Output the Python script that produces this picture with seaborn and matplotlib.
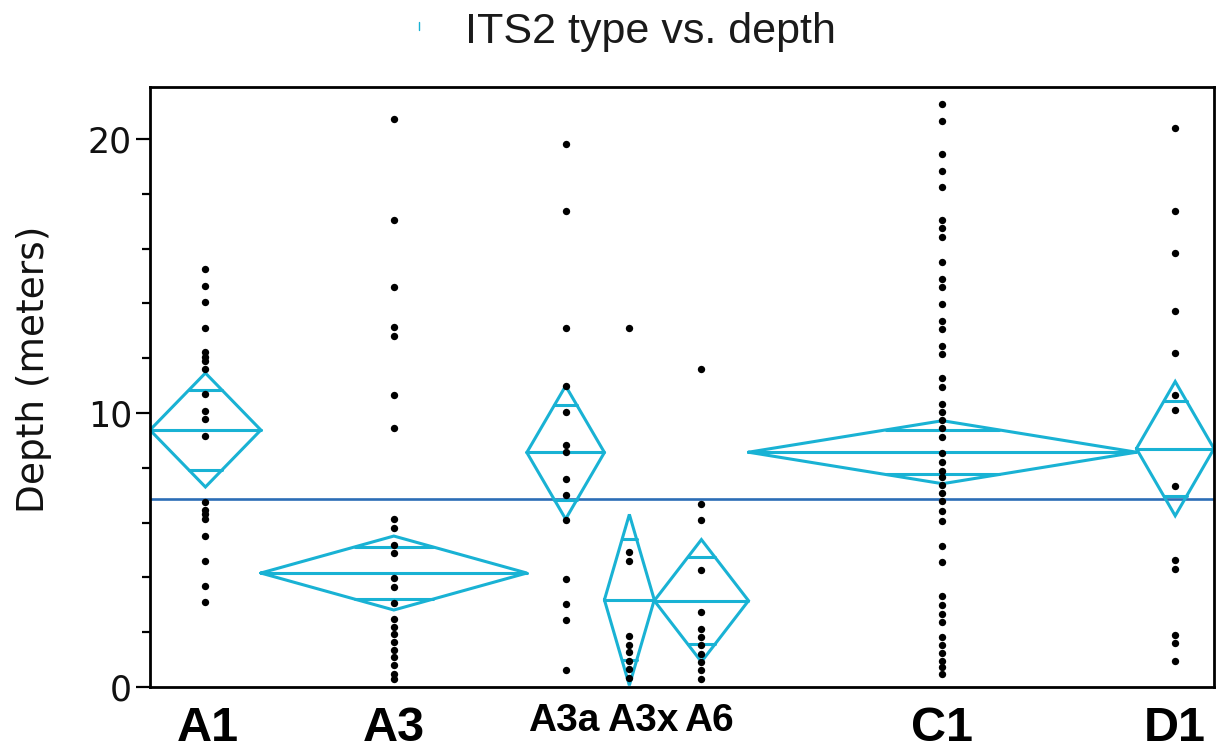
import numpy as np
import pandas as pd
import matplotlib
matplotlib.use("Agg")
import matplotlib.pyplot as plt
import matplotlib.transforms as mtransforms
from matplotlib.lines import Line2D
from matplotlib.ticker import MultipleLocator
import seaborn as sns

# ---------------- data ----------------
its2_types = ["A1", "A3", "A3a", "A3x", "A6", "C1", "D1"]
sample_sizes = [20, 48, 14, 9, 17, 70, 14]

depth_A1 = [15.26, 14.65, 14.04, 13.11, 12.21, 12.05, 11.9, 11.6, 10.68, 10.07,
            9.77, 9.17, 6.74, 6.46, 6.30, 6.13, 5.52, 4.61, 3.70, 3.09]
depth_A3 = [20.72, 17.06, 14.61, 13.15, 12.82, 10.66, 9.44, 6.15, 5.80, 5.20,
            4.88, 3.98, 3.66, 3.08, 2.47, 2.20, 1.92, 1.64, 1.36, 1.08, 0.80,
            0.49, 0.31]
depth_A3a = [19.81, 17.38, 13.12, 10.98, 10.05, 8.83, 8.56, 7.61, 7.0, 6.08,
             3.96, 3.04, 2.43, 0.61]
depth_A3x = [13.12, 4.91, 4.60, 1.86, 1.55, 1.26, 0.95, 0.65, 0.34]
depth_A6 = [11.6, 6.69, 6.08, 4.26, 2.74, 2.13, 1.82, 1.53, 1.22, 0.92, 0.61, 0.31]
depth_C1 = [21.29, 20.67, 19.44, 18.83, 18.24, 17.05, 16.77, 16.43, 15.50, 14.89,
            14.60, 13.98, 13.37, 13.05, 12.46, 12.14, 11.28, 10.96, 10.34, 10.05,
            9.76, 9.44, 9.11, 8.53, 8.21, 7.88, 7.66, 7.37, 7.08, 6.80, 6.43, 6.07,
            5.13, 4.55, 3.32, 3.01, 2.68, 2.39, 1.81, 1.52, 1.23, 0.94, 0.73, 0.48]
depth_D1 = [20.4, 17.37, 15.85, 13.73, 12.20, 10.66, 10.11, 7.35, 4.64, 4.31,
            1.90, 1.59, 0.95]

diamond_means = [9.38, 4.16, 8.56, 3.18, 3.15, 8.57, 8.70]
diamond_ci_half = [2.08, 1.35, 2.43, 3.12, 2.23, 1.15, 2.45]
grand_mean = 6.86

title_text = "ITS2 type vs. depth"
y_label = "Depth (meters)"
y_major_ticks = [0, 10, 20]

# ---------------- style ----------------
sns.set_style("ticks")
plt.rcParams["font.family"] = ["DejaVu Sans"]
plt.rcParams["text.color"] = "black"
plt.rcParams["axes.labelcolor"] = "black"
plt.rcParams["xtick.color"] = "black"
plt.rcParams["ytick.color"] = "black"

DIAMOND = "#19B2D4"
MEANLINE = "#2C6DB6"

depth_lists = [depth_A1, depth_A3, depth_A3a, depth_A3x, depth_A6, depth_C1, depth_D1]
edges = np.concatenate([[0], np.cumsum(sample_sizes)])
centers = (edges[:-1] + edges[1:]) / 2.0
rows = []
for t, c, vals in zip(its2_types, centers, depth_lists):
    for v in vals:
        rows.append({"type": t, "x": c, "depth": v})
df = pd.DataFrame(rows)

fig = plt.figure(figsize=(12.17, 7.52), dpi=100)
ax = fig.add_axes([150 / 1217, 65 / 752, 1064 / 1217, 600 / 752])

ax.axhline(grand_mean, color=MEANLINE, lw=1.9, zorder=1)

k = 1 - 1 / np.sqrt(2)
LW = 2.2
for i, t in enumerate(its2_types):
    left, right = edges[i], edges[i + 1]
    c = centers[i]
    m = diamond_means[i]
    h = diamond_ci_half[i]
    ax.plot([left, c, right, c, left], [m, m + h, m, m - h, m],
            color=DIAMOND, lw=LW, zorder=2, solid_joinstyle="miter")
    ax.plot([left, right], [m, m], color=DIAMOND, lw=LW, zorder=2)
    hw = (right - left) / 2 * k
    d = h / np.sqrt(2)
    for yy in (m + d, m - d):
        ax.plot([c - hw, c + hw], [yy, yy], color=DIAMOND, lw=LW, zorder=2)

sns.scatterplot(data=df, x="x", y="depth", color="black", s=28, linewidth=0,
                ax=ax, zorder=3, legend=False)

ax.set_xlim(edges[0], edges[-1])
ax.set_ylim(0, 21.9)
ax.set_xlabel("")
ax.set_ylabel(y_label, fontsize=27, family="DejaVu Sans", color="#111111")
ax.yaxis.set_label_coords(-0.092, 0.53)

ax.set_yticks(y_major_ticks)
ax.yaxis.set_minor_locator(MultipleLocator(2))
ax.tick_params(axis="y", which="major", length=10, width=1.6, labelsize=25, pad=3,
               color="black", labelcolor="#111111")
ax.tick_params(axis="y", which="minor", length=6, width=1.6, color="black")

ax.set_xticks(centers)
ax.set_xticklabels(its2_types)
ax.tick_params(axis="x", which="both", length=0, pad=14, labelcolor="black")
label_sizes = {"A1": 35, "A3": 35, "A3a": 28, "A3x": 28, "A6": 28, "C1": 35, "D1": 35}
label_dx = {"A1": 2, "A3": 0, "A3a": -2, "A3x": 13, "A6": 7, "C1": 0, "D1": 0}
label_dy = {"A1": 0, "A3": 0, "A3a": 3, "A3x": 3, "A6": 3, "C1": 0, "D1": 0}
for lab in ax.get_xticklabels():
    t = lab.get_text()
    lab.set_fontsize(label_sizes[t])
    lab.set_fontweight("bold")
    lab.set_family("Liberation Sans")
    off = mtransforms.ScaledTranslation(label_dx[t] / 100, label_dy[t] / 100,
                                        fig.dpi_scale_trans)
    lab.set_transform(lab.get_transform() + off)

for sp in ax.spines.values():
    sp.set_visible(True)
    sp.set_color("black")
    sp.set_linewidth(2.0)
    sp.set_zorder(5)

fig.text(650 / 1217, 1 - 43 / 752, title_text, fontsize=31, family="Liberation Sans",
         ha="center", va="baseline", color="#1a1a1a")
fig.add_artist(Line2D([419 / 1217, 419 / 1217], [1 - 22 / 752, 1 - 30 / 752],
                      color=DIAMOND, lw=1.0))

fig.savefig("out.png", dpi=100)
